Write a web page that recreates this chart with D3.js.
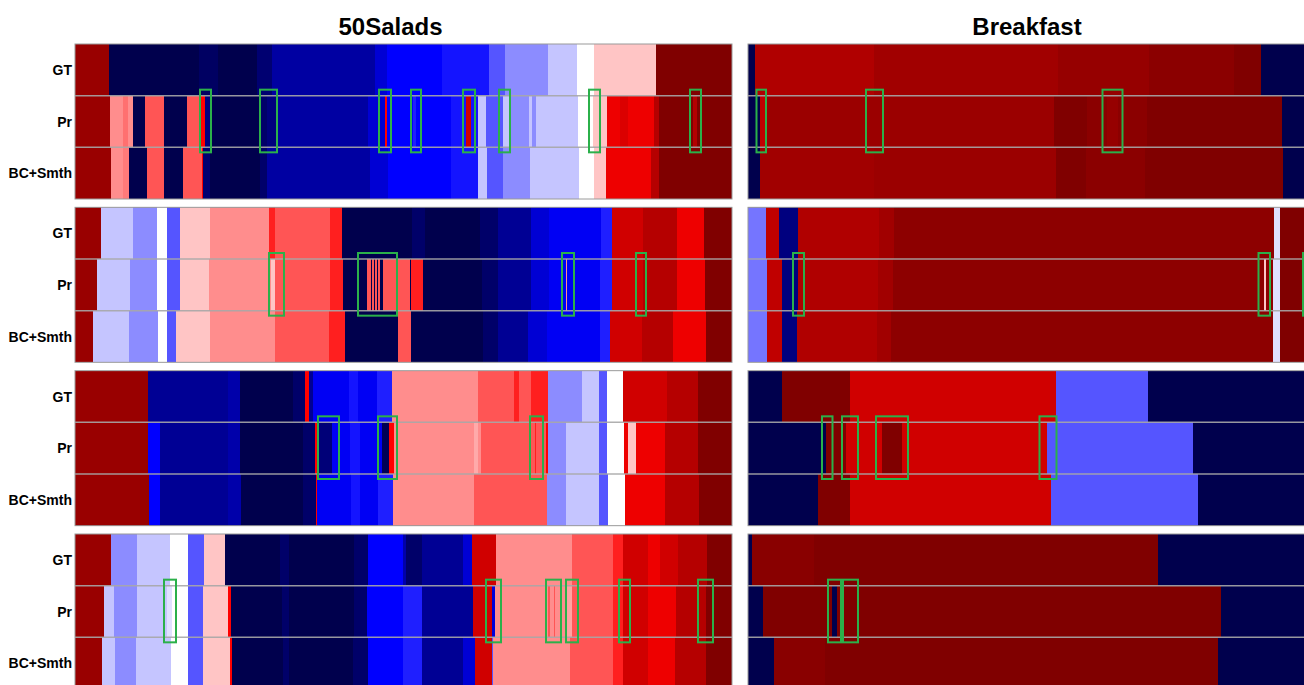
<!DOCTYPE html>
<html><head><meta charset="utf-8">
<script src="https://cdn.jsdelivr.net/npm/d3@7/dist/d3.min.js"></script>
<style>body{margin:0;background:#fff}svg{display:block}</style>
</head><body><svg id="c" width="1304" height="685"></svg>
<script>
// ---- data: each segment = [start frame, class value]; segment ends at next start ----
const datasets = ["50Salads", "Breakfast"];
const rowLabels = ["GT", "Pr", "BC+Smth"];
const videoLength = {"50Salads": 657, "Breakfast": 558};

const salads1GT = [[0,.95],[34,0],[124,.03],[143,0],[182,.05],[197,.12],[300,.19],[312,.25],[367,.27],[414,.333],[430,.387],[473,.443],[502,.5],[519,.557],[581,1]];
const salads1PR = [[0,.95],[35,.612],[48,.64],[53,.612],[58,0],[70,.667],[89,0],[112,.667],[126,.75],[130,.07],[135,0],[185,.04],[192,.07],[202,.12],[293,.19],[310,.75],[312,.25],[338,.28],[341,.25],[376,.27],[391,.842],[396,.27],[403,.443],[411,.333],[428,.443],[435,.387],[454,.443],[457,.387],[461,.443],[503,.5],[518,.557],[532,.784],[545,.82],[553,.784],[579,.895],[584,1],[618,.9],[622,1]];
const salads1BC = [[0,.95],[36,.612],[48,.63],[54,0],[72,.667],[89,0],[108,.667],[127,.75],[128,.05],[135,0],[185,.04],[192,.12],[295,.19],[313,.25],[376,.27],[403,.443],[412,.333],[428,.387],[455,.443],[504,.5],[519,.557],[531,.784],[576,.895],[584,1]];
const salads1Box = [[125,136],[185,202],[304,316],[336,346],[388,400],[424,435],[514,525],[615,626]];

const salads2GT = [[0,.95],[26,.443],[58,.387],[82,.5],[92,.333],[105,.557],[135,.612],[194,.72],[200,.667],[255,.72],[267,0],[337,.04],[350,0],[405,.04],[423,.1],[456,.19],[474,.235],[526,.28],[537,.842],[568,.895],[602,.784],[629,1]];
const salads2PR = [[0,.95],[22,.443],[55,.387],[82,.5],[92,.333],[105,.557],[134,.612],[196,.557],[200,.667],[255,.72],[268,0],[292,.667],[296,0],[297,.667],[299,0],[300,.667],[302,0],[303,.667],[305,0],[308,.667],[335,0],[336,.72],[348,0],[407,.04],[423,.1],[456,.19],[474,.235],[491,.612],[492,.235],[525,.28],[537,.842],[568,.895],[602,.784],[630,1]];
const salads2BC = [[0,.95],[18,.443],[54,.387],[83,.5],[92,.333],[101,.557],[135,.612],[200,.667],[254,.72],[270,0],[323,.667],[336,0],[408,.04],[423,.1],[453,.19],[472,.235],[525,.28],[535,.842],[567,.895],[598,.784],[631,1]];
const salads2Box = [[194,209],[283,322],[487,499],[561,571]];

const salads3GT = [[0,.95],[73,.1],[153,.13],[165,0],[218,.04],[230,.75],[234,.1],[238,.235],[274,.27],[283,.235],[302,.28],[317,.612],[403,.667],[439,.72],[444,.667],[456,.72],[473,.387],[507,.443],[524,.333],[532,.5],[548,.842],[592,.895],[623,1]];
const salads3PR = [[0,.95],[73,.25],[85,.1],[153,.13],[165,0],[228,.04],[240,.75],[242,.06],[257,.235],[275,.27],[285,.235],[307,.01],[314,.75],[319,.612],[399,.583],[403,.612],[406,.667],[460,.72],[461,.667],[471,.75],[473,.387],[491,.443],[524,.333],[532,.5],[549,.784],[553,.557],[561,.784],[590,.895],[623,1]];
const salads3BC = [[0,.95],[74,.25],[85,.1],[153,.13],[166,0],[228,.04],[241,.75],[242,.235],[276,.27],[285,.235],[303,.28],[318,.612],[399,.667],[472,.387],[491,.443],[524,.333],[533,.5],[550,.784],[590,.895],[624,1]];
const salads3Box = [[243,264],[303,322],[455,468]];

const salads4GT = [[0,.95],[36,.387],[62,.443],[95,.5],[113,.333],[129,.557],[150,0],[205,.04],[214,0],[279,.04],[293,.25],[328,.13],[331,.04],[347,.1],[388,.19],[397,.842],[421,.612],[497,.667],[538,.72],[548,.842],[573,.784],[585,.842],[603,.895],[632,1]];
const salads4PR = [[0,.95],[29,.443],[39,.387],[62,.443],[92,.47],[97,.5],[113,.333],[128,.557],[153,.75],[156,0],[207,.04],[214,0],[279,.04],[292,.25],[328,.28],[347,.1],[398,.842],[417,.2],[420,.612],[473,.667],[475,.612],[479,.667],[480,.612],[492,.59],[497,.667],[538,.72],[548,.842],[573,.784],[601,.895],[631,1]];
const salads4BC = [[0,.95],[27,.443],[40,.387],[61,.443],[96,.5],[113,.333],[128,.557],[155,.75],[157,0],[208,.04],[214,0],[278,.04],[293,.25],[328,.28],[347,.1],[388,.19],[400,.842],[417,.333],[418,.612],[495,.667],[538,.72],[548,.842],[573,.784],[600,.895],[631,1]];
const salads4Box = [[89,101],[411,426],[471,486],[491,503],[544,555],[623,638]];

const breakfast1GT = [[0,0],[7,.905],[126,.936],[310,.957],[401,.979],[486,1],[512.5,0]];
const breakfast1PR = [[0,0],[12,.87],[16.5,.946],[306,1],[339,.979],[359,.957],[370,.979],[398.5,1],[534,0]];
const breakfast1BC = [[0,0],[12,.936],[126,.946],[307.5,1],[338,.979],[397,1],[535,0]];
const breakfast1Box = [[8.5,18],[118,135],[354.5,374.5]];

const breakfast2GT = [[0,.365],[18,.874],[30.5,.07],[49.5,.905],[130.5,.936],[146,.975],[526,.47],[532,1]];
const breakfast2PR = [[0,.365],[19,.874],[33.5,.07],[49.5,.905],[130,.936],[145,.975],[515.5,.557],[518,.975],[525,.47],[532,1]];
const breakfast2BC = [[0,.365],[19,.874],[34,.07],[48.5,.905],[129,.936],[143,.975],[525,.47],[532,1]];
const breakfast2Box = [[45,56],[510.5,522],[555,568]];

const breakfast3GT = [[0,0],[34,1],[102,.842],[307.5,.333],[400,0]];
const breakfast3PR = [[0,0],[78,1],[98,.842],[134,1],[154,.842],[299,.333],[445,0]];
const breakfast3BC = [[0,0],[70,1],[102,.842],[302.5,.333],[449.5,0]];
const breakfast3Box = [[74,84.5],[94,110],[128,160],[291.5,308.5]];

const breakfast4GT = [[0,0],[4,.983],[66,1],[410,0]];
const breakfast4PR = [[0,0],[15,1],[84,0],[89,1],[473,0]];
const breakfast4BC = [[0,0],[26,.983],[77,1],[470,0]];
const breakfast4Box = [[80,93],[95,110]];

const panels = [
  {ds:"50Salads", r:0, rows:[salads1GT, salads1PR, salads1BC], boxes:salads1Box},
  {ds:"50Salads", r:1, rows:[salads2GT, salads2PR, salads2BC], boxes:salads2Box},
  {ds:"50Salads", r:2, rows:[salads3GT, salads3PR, salads3BC], boxes:salads3Box},
  {ds:"50Salads", r:3, rows:[salads4GT, salads4PR, salads4BC], boxes:salads4Box},
  {ds:"Breakfast", r:0, rows:[breakfast1GT, breakfast1PR, breakfast1BC], boxes:breakfast1Box},
  {ds:"Breakfast", r:1, rows:[breakfast2GT, breakfast2PR, breakfast2BC], boxes:breakfast2Box},
  {ds:"Breakfast", r:2, rows:[breakfast3GT, breakfast3PR, breakfast3BC], boxes:breakfast3Box},
  {ds:"Breakfast", r:3, rows:[breakfast4GT, breakfast4PR, breakfast4BC], boxes:breakfast4Box}
];

// ---- layout ----
const colX = {"50Salads":[75,732], "Breakfast":[748,1306]};
const panelTop = d3.scaleLinear().domain([0,3]).range([44,534]);
const panelH = 155;
const color = d3.scaleLinear().domain([0,.25,.5,.75,1])
  .range(["#00004d","#0000ff","#ffffff","#ff0000","#800000"]);

const svg = d3.select("#c");
const font = "'Liberation Sans', Arial, sans-serif";

datasets.forEach(ds => {
  const [a,b] = colX[ds];
  svg.append("text").attr("x",(a+b)/2 - (ds==="50Salads"?13:0)).attr("y",35)
    .attr("text-anchor","middle").attr("font-family",font).attr("font-weight","bold")
    .attr("font-size",24).attr("fill","#000").text(ds);
});

panels.forEach(p => {
  const top = panelTop(p.r);
  const [a,b] = colX[p.ds];
  const L = videoLength[p.ds];
  const x = d3.scaleLinear().domain([0,L]).range([a,b]);
  const y = d3.scaleBand().domain(rowLabels).range([top, top+panelH]);
  const g = svg.append("g");
  p.rows.forEach((segs, i) => {
    const lab = rowLabels[i];
    const data = segs.map((s,j) => ({s:s[0], e: j<segs.length-1 ? segs[j+1][0] : L, v:s[1]}));
    g.selectAll(null).data(data).enter().append("rect")
      .attr("x", d => x(d.s)).attr("width", d => Math.max(0, x(d.e)-x(d.s)))
      .attr("y", y(lab)).attr("height", y.bandwidth())
      .attr("fill", d => color(d.v)).attr("shape-rendering","crispEdges");
    if (p.ds === "50Salads") {
      svg.append("text").attr("x",72).attr("y", y(lab)+y.bandwidth()/2+5)
        .attr("text-anchor","end").attr("font-family",font).attr("font-weight","bold")
        .attr("font-size",14).attr("fill","#000").text(lab);
    }
  });
  // row separators
  [1,2].forEach(i => {
    g.append("line").attr("x1",a).attr("x2",b)
      .attr("y1", y(rowLabels[i])).attr("y2", y(rowLabels[i]))
      .attr("stroke","#a8a8a8").attr("stroke-width",1.5).attr("opacity",0.9);
  });
  // border
  g.append("rect").attr("x",a).attr("y",top).attr("width",b-a).attr("height",panelH)
    .attr("fill","none").attr("stroke","#9a9a9a").attr("stroke-width",1);
  // highlight boxes around Pr row
  g.selectAll(null).data(p.boxes).enter().append("rect")
    .attr("x", d => x(d[0])).attr("width", d => x(d[1])-x(d[0]))
    .attr("y", y("Pr")-6).attr("height", y.bandwidth()+11)
    .attr("fill","none").attr("stroke","#2bb04a").attr("stroke-width",2);
});
</script></body></html>
